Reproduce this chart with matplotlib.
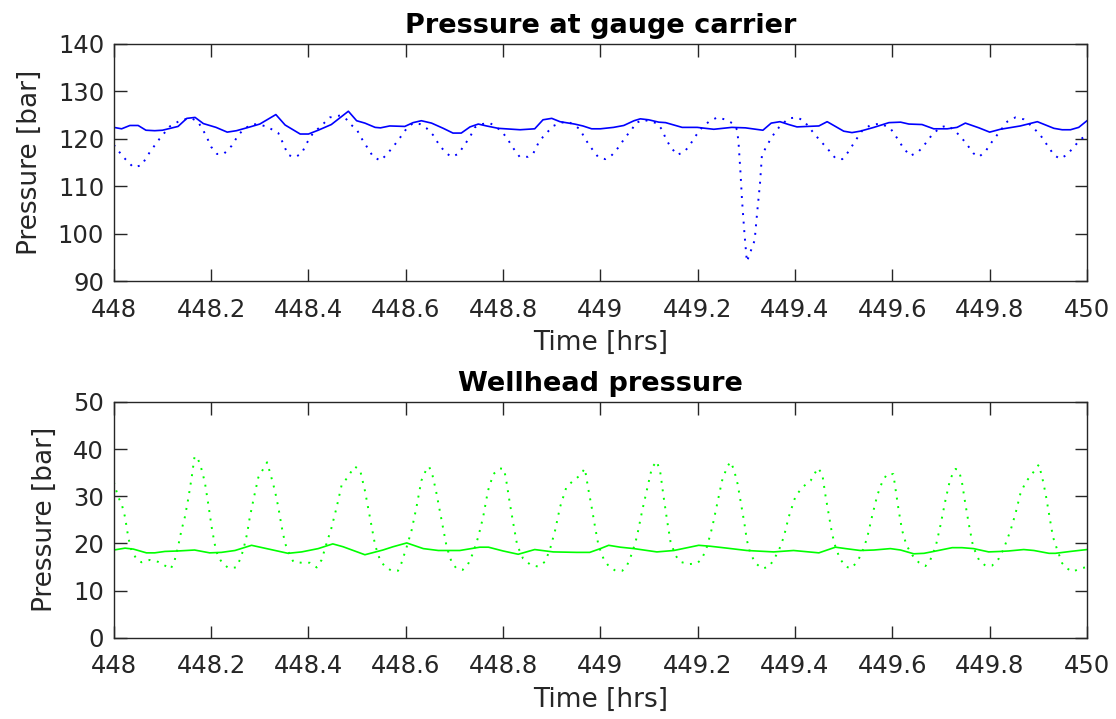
import numpy as np
import matplotlib
matplotlib.use('Agg')
import matplotlib.pyplot as plt

# gauge carrier pressure, solid trace
t_gauge_solid = [448.0, 448.016, 448.033, 448.05, 448.066, 448.084, 448.1, 448.132, 448.15, 448.167,
                 448.184, 448.21, 448.233, 448.252, 448.28, 448.3, 448.333, 448.352, 448.383, 448.4,
                 448.42, 448.447, 448.482, 448.499, 448.516, 448.537, 448.548, 448.567, 448.598, 448.615,
                 448.632, 448.653, 448.677, 448.697, 448.714, 448.732, 448.749, 448.766, 448.79, 448.835,
                 448.865, 448.882, 448.9, 448.917, 448.947, 448.964, 448.982, 449.0, 449.027, 449.048,
                 449.069, 449.082, 449.099, 449.12, 449.134, 449.168, 449.199, 449.233, 449.27, 449.298,
                 449.334, 449.351, 449.369, 449.387, 449.404, 449.425, 449.449, 449.466, 449.483, 449.5,
                 449.517, 449.534, 449.562, 449.593, 449.617, 449.634, 449.661, 449.685, 449.713, 449.733,
                 449.75, 449.778, 449.8, 449.822, 449.863, 449.898, 449.932, 449.949, 449.966, 449.983,
                 450.0]
p_gauge_solid = [122.4, 122.1, 122.8, 122.8, 121.8, 121.7, 121.8, 122.6, 124.3, 124.5,
                 123.2, 122.4, 121.4, 121.7, 122.5, 123.1, 125.1, 122.9, 121.0, 121.0,
                 121.8, 123.0, 125.8, 123.8, 123.3, 122.4, 122.3, 122.7, 122.6, 123.4,
                 123.8, 123.3, 122.2, 121.2, 121.2, 122.5, 123.1, 122.7, 122.2, 121.9,
                 122.1, 124.0, 124.3, 123.6, 123.1, 122.7, 122.1, 122.1, 122.4, 122.8,
                 123.8, 124.2, 124.0, 123.5, 123.4, 122.4, 122.4, 122.0, 122.4, 122.3,
                 121.8, 123.3, 123.6, 123.0, 122.5, 122.6, 122.7, 123.6, 122.6, 121.6,
                 121.3, 121.6, 122.4, 123.4, 123.5, 123.1, 123.0, 122.1, 122.1, 122.4,
                 123.3, 122.3, 121.4, 122.0, 122.7, 123.6, 122.2, 121.9, 121.9, 122.4,
                 123.8]

# gauge carrier pressure, dotted trace
t_gauge_dot = [448.0, 448.019, 448.04, 448.057, 448.074, 448.094, 448.115, 448.139, 448.16, 448.173,
               448.189, 448.2, 448.212, 448.226, 448.242, 448.256, 448.269, 448.286, 448.297, 448.314,
               448.338, 448.348, 448.358, 448.372, 448.386, 448.396, 448.41, 448.423, 448.444, 448.465,
               448.478, 448.488, 448.499, 448.509, 448.52, 448.533, 448.548, 448.56, 448.574, 448.588,
               448.602, 448.615, 448.629, 448.643, 448.656, 448.67, 448.684, 448.694, 448.708, 448.718,
               448.732, 448.742, 448.756, 448.773, 448.787, 448.8, 448.81, 448.821, 448.834, 448.851,
               448.862, 448.872, 448.882, 448.903, 448.92, 448.934, 448.947, 448.958, 448.968, 448.978,
               448.995, 449.01, 449.024, 449.038, 449.051, 449.065, 449.072, 449.089, 449.103, 449.116,
               449.127, 449.134, 449.144, 449.158, 449.173, 449.184, 449.195, 449.209, 449.223, 449.24,
               449.255, 449.271, 449.281, 449.284, 449.288, 449.291, 449.296, 449.301, 449.307, 449.317,
               449.322, 449.328, 449.332, 449.343, 449.353, 449.367, 449.377, 449.387, 449.404, 449.418,
               449.432, 449.449, 449.466, 449.483, 449.497, 449.51, 449.524, 449.538, 449.555, 449.576,
               449.596, 449.61, 449.623, 449.637, 449.654, 449.668, 449.682, 449.699, 449.713, 449.726,
               449.74, 449.754, 449.767, 449.778, 449.791, 449.805, 449.819, 449.836, 449.853, 449.87,
               449.887, 449.904, 449.918, 449.932, 449.944, 449.959, 449.973, 449.987, 450.0]
p_gauge_dot = [118.7, 116.2, 114.0, 114.4, 117.2, 120.0, 122.6, 124.0, 124.3, 123.6,
               120.8, 118.3, 116.8, 116.8, 118.5, 120.8, 122.2, 123.1, 123.0, 122.6,
               121.2, 119.0, 116.6, 116.1, 116.9, 119.0, 121.3, 122.4, 124.5, 124.9,
               124.1, 122.9, 122.0, 120.1, 118.3, 116.2, 115.4, 116.6, 118.3, 120.2,
               122.2, 123.3, 123.1, 122.2, 120.8, 118.5, 116.9, 116.2, 116.8, 118.3,
               120.4, 122.4, 123.1, 123.3, 122.4, 121.2, 119.8, 118.0, 116.2, 116.2,
               116.9, 119.0, 120.4, 122.7, 123.4, 123.6, 122.8, 122.0, 120.1, 118.5,
               116.2, 115.7, 116.6, 118.3, 120.3, 122.0, 123.3, 124.0, 123.6, 123.3,
               121.9, 120.1, 118.3, 116.6, 117.3, 118.7, 120.5, 122.4, 123.6, 124.5,
               124.1, 123.3, 121.9, 119.0, 112.7, 107.1, 100.1, 94.1, 95.8, 98.6,
               104.3, 110.6, 116.6, 118.7, 120.5, 122.4, 123.4, 124.3, 124.5, 123.8,
               122.0, 119.9, 118.0, 115.9, 115.7, 117.3, 119.6, 121.7, 122.9, 123.2,
               122.2, 120.1, 118.0, 116.4, 117.3, 119.0, 120.9, 122.4, 122.8, 121.9,
               120.5, 118.7, 116.9, 116.2, 117.3, 119.4, 121.3, 123.6, 124.5, 124.1,
               122.6, 120.8, 118.7, 116.6, 115.8, 116.6, 118.3, 119.9, 120.8]

# wellhead pressure, solid trace
t_well_solid = [448.0, 448.023, 448.04, 448.067, 448.084, 448.105, 448.132, 448.166, 448.197, 448.221,
                448.249, 448.283, 448.314, 448.358, 448.386, 448.42, 448.45, 448.471, 448.516, 448.553,
                448.574, 448.602, 448.636, 448.667, 448.711, 448.752, 448.77, 448.8, 448.831, 448.865,
                448.903, 448.951, 448.978, 449.0, 449.017, 449.041, 449.069, 449.116, 449.151, 449.202,
                449.226, 449.26, 449.301, 449.356, 449.397, 449.449, 449.483, 449.504, 449.534, 449.562,
                449.596, 449.617, 449.644, 449.665, 449.685, 449.723, 449.743, 449.767, 449.798, 449.822,
                449.839, 449.87, 449.891, 449.922, 449.935, 449.966, 450.0]
p_well_solid = [18.6, 19.0, 18.8, 18.0, 18.0, 18.3, 18.4, 18.6, 18.0, 18.1,
                18.5, 19.6, 18.9, 17.9, 18.2, 18.9, 19.9, 19.3, 17.6, 18.6,
                19.3, 20.1, 18.9, 18.5, 18.5, 19.2, 19.2, 18.4, 17.7, 18.7,
                18.2, 18.1, 18.1, 18.9, 19.6, 19.2, 18.9, 18.2, 18.5, 19.6,
                19.4, 19.0, 18.5, 18.2, 18.5, 18.0, 19.2, 18.9, 18.5, 18.6,
                18.9, 18.6, 17.8, 17.9, 18.3, 19.1, 19.1, 18.9, 18.2, 18.3,
                18.4, 18.7, 18.5, 17.9, 17.9, 18.3, 18.7]

# wellhead pressure, dotted trace
t_well_dot = [448.0, 448.009, 448.016, 448.023, 448.03, 448.036, 448.047, 448.057, 448.074, 448.091,
              448.105, 448.117, 448.125, 448.132, 448.139, 448.146, 448.153, 448.16, 448.166, 448.173,
              448.18, 448.187, 448.194, 448.201, 448.207, 448.214, 448.223, 448.235, 448.251, 448.259,
              448.266, 448.274, 448.279, 448.288, 448.297, 448.307, 448.315, 448.324, 448.331, 448.338,
              448.345, 448.352, 448.362, 448.369, 448.386, 448.403, 448.417, 448.427, 448.436, 448.447,
              448.458, 448.468, 448.478, 448.495, 448.506, 448.516, 448.523, 448.53, 448.537, 448.547,
              448.557, 448.571, 448.584, 448.591, 448.602, 448.612, 448.622, 448.632, 448.641, 448.648,
              448.655, 448.662, 448.669, 448.676, 448.684, 448.694, 448.704, 448.717, 448.728, 448.738,
              448.749, 448.759, 448.769, 448.78, 448.793, 448.802, 448.807, 448.814, 448.821, 448.829,
              448.841, 448.857, 448.872, 448.886, 448.896, 448.907, 448.917, 448.93, 448.944, 448.958,
              448.968, 448.975, 448.982, 448.989, 448.996, 449.007, 449.017, 449.031, 449.045, 449.055,
              449.065, 449.075, 449.086, 449.096, 449.106, 449.116, 449.123, 449.13, 449.137, 449.144,
              449.154, 449.164, 449.182, 449.199, 449.209, 449.219, 449.23, 449.24, 449.25, 449.26,
              449.267, 449.274, 449.282, 449.289, 449.296, 449.301, 449.308, 449.319, 449.332, 449.346,
              449.356, 449.367, 449.377, 449.387, 449.401, 449.415, 449.432, 449.447, 449.456, 449.462,
              449.469, 449.476, 449.483, 449.492, 449.504, 449.515, 449.528, 449.538, 449.548, 449.558,
              449.569, 449.579, 449.589, 449.602, 449.608, 449.613, 449.62, 449.629, 449.641, 449.654,
              449.668, 449.678, 449.689, 449.699, 449.709, 449.719, 449.73, 449.737, 449.743, 449.75,
              449.757, 449.766, 449.778, 449.791, 449.805, 449.819, 449.829, 449.843, 449.853, 449.863,
              449.874, 449.887, 449.901, 449.908, 449.915, 449.922, 449.93, 449.939, 449.949, 449.959,
              449.97, 449.987, 450.0]
p_well_dot = [33.0, 29.8, 28.4, 25.6, 21.1, 18.6, 16.6, 16.0, 16.5, 16.1,
              15.3, 14.6, 16.4, 19.3, 22.8, 25.6, 29.5, 34.0, 38.5, 37.9,
              35.8, 33.0, 28.4, 23.5, 20.0, 17.2, 15.9, 14.8, 14.9, 16.5,
              18.6, 22.1, 25.3, 29.8, 34.0, 35.8, 37.2, 33.9, 31.2, 27.7,
              23.5, 20.0, 17.5, 16.1, 15.9, 15.9, 14.9, 16.5, 19.6, 23.2,
              27.7, 32.3, 33.7, 36.3, 35.6, 31.2, 27.4, 23.5, 19.6, 16.5,
              15.1, 14.2, 14.2, 15.8, 19.3, 22.8, 27.7, 33.3, 35.4, 36.3,
              34.4, 31.2, 27.4, 23.5, 19.3, 16.1, 14.7, 14.4, 15.6, 17.9,
              21.4, 25.6, 31.2, 34.7, 35.9, 35.8, 33.0, 28.4, 24.2, 19.6,
              16.8, 15.4, 15.1, 16.1, 18.6, 22.8, 27.7, 31.9, 33.3, 34.4,
              35.9, 31.6, 27.7, 23.5, 19.6, 16.6, 15.2, 14.2, 14.2, 15.4,
              17.9, 21.4, 27.0, 31.6, 36.1, 37.4, 35.1, 29.8, 24.9, 20.4,
              17.5, 16.1, 15.6, 15.8, 16.8, 19.3, 23.5, 28.4, 33.3, 36.1,
              37.3, 35.8, 32.6, 28.4, 24.2, 20.7, 17.9, 15.8, 14.7, 15.0,
              16.5, 18.6, 21.4, 25.6, 30.0, 31.9, 33.3, 36.0, 34.7, 30.5,
              26.3, 22.1, 19.3, 16.8, 15.1, 14.7, 16.1, 18.2, 21.1, 25.6,
              30.2, 33.0, 34.7, 34.7, 30.5, 27.0, 22.8, 19.6, 17.5, 16.0,
              15.2, 16.5, 19.3, 23.9, 29.1, 33.7, 35.8, 35.4, 33.0, 28.4,
              24.2, 19.3, 16.5, 15.3, 15.3, 16.8, 18.9, 22.8, 26.3, 30.5,
              33.0, 34.7, 36.7, 34.0, 30.5, 26.3, 21.4, 18.6, 15.8, 14.7,
              14.0, 14.7, 15.0]

x_ticks = [448, 448.2, 448.4, 448.6, 448.8, 449, 449.2, 449.4, 449.6, 449.8, 450]
x_tick_labels = ['448', '448.2', '448.4', '448.6', '448.8', '449',
                 '449.2', '449.4', '449.6', '449.8', '450']

plt.rcParams['font.family'] = 'DejaVu Sans'
axis_col = '#262626'

fig = plt.figure(figsize=(11.16, 7.19), dpi=100)
ax1 = fig.add_axes([0.102, 0.609, 0.872, 0.330])
ax2 = fig.add_axes([0.102, 0.113, 0.872, 0.328])

dot_style = (0, (1, 3.4))

ax1.plot(t_gauge_solid, p_gauge_solid, color=(0, 0, 1), lw=1.2)
ax1.plot(t_gauge_dot, p_gauge_dot, color=(0, 0, 1), lw=1.4, linestyle=dot_style)
ax2.plot(t_well_solid, p_well_solid, color=(0, 1, 0), lw=1.2)
ax2.plot(t_well_dot, p_well_dot, color=(0, 1, 0), lw=1.4, linestyle=dot_style)

ax1.set_ylim(90, 140)
ax1.set_yticks([90, 100, 110, 120, 130, 140])
ax2.set_ylim(0, 50)
ax2.set_yticks([0, 10, 20, 30, 40, 50])

for ax, title in [(ax1, 'Pressure at gauge carrier'), (ax2, 'Wellhead pressure')]:
    ax.set_xlim(448, 450)
    ax.set_xticks(x_ticks)
    ax.set_xticklabels(x_tick_labels)
    ax.tick_params(direction='in', length=9, width=1, top=True, right=True,
                   labelsize=17.5, colors=axis_col, labelcolor=axis_col)
    ax.tick_params(axis='x', pad=12)
    ax.tick_params(axis='y', pad=7)
    for s in ax.spines.values():
        s.set_color(axis_col)
        s.set_linewidth(1.0)
    ax.set_xlabel('Time [hrs]', fontsize=19, color=axis_col, labelpad=6)
    ax.set_ylabel('Pressure [bar]', fontsize=19, color=axis_col, labelpad=11)
    ax.set_title(title, fontsize=19.5, fontweight='bold', pad=8)

fig.savefig('out.png', dpi=100)
